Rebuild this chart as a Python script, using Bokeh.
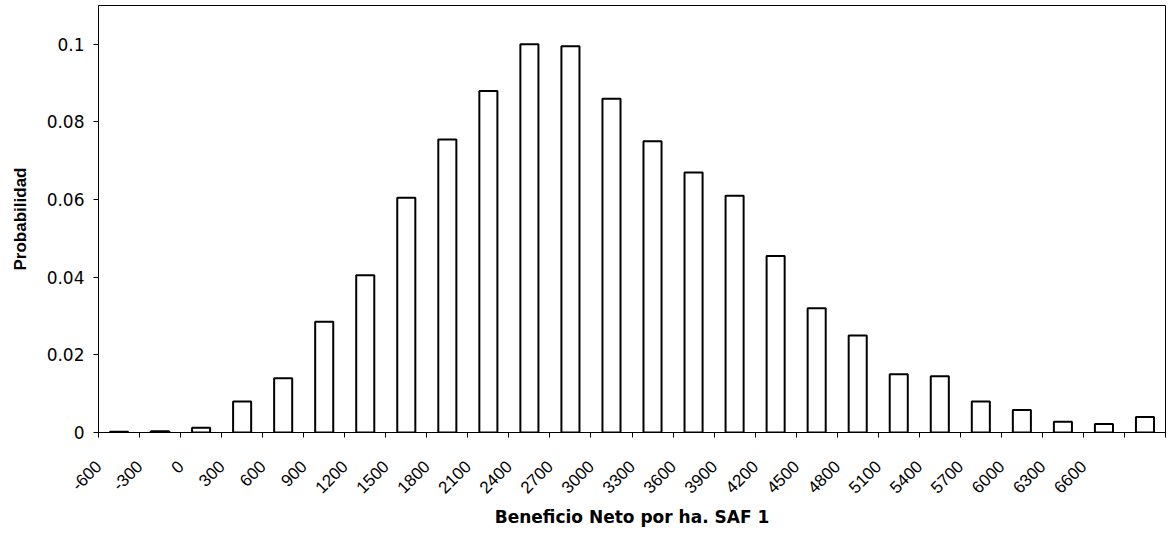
import math
from bokeh.plotting import figure
from bokeh.models import ColumnDataSource, FixedTicker, CustomJSTickFormatter, Range1d
from bokeh.embed import file_html
from bokeh.resources import INLINE

# Bin lower edges (Beneficio Neto por ha.) and probabilities
bin_start = [-600, -300, 0, 300, 600, 900, 1200, 1500, 1800, 2100, 2400, 2700, 3000,
             3300, 3600, 3900, 4200, 4500, 4800, 5100, 5400, 5700, 6000, 6300, 6600, 6900]
probabilidad = [0.0002, 0.0003, 0.0012, 0.0080, 0.0140, 0.0285, 0.0405, 0.0605, 0.0755,
                0.0880, 0.1000, 0.0995, 0.0860, 0.0750, 0.0670, 0.0610, 0.0455, 0.0320,
                0.0250, 0.0150, 0.0145, 0.0080, 0.0058, 0.0028, 0.0022, 0.0040]
bin_size = 300
x_ticks = list(range(-600, 7201, 300))
x_tick_labels = [str(t) for t in range(-600, 6601, 300)]
y_ticks = [0, 0.02, 0.04, 0.06, 0.08, 0.1]

centers = [b + bin_size / 2 for b in bin_start]
src = ColumnDataSource(dict(x=centers, top=probabilidad))

p = figure(width=1176, height=540, output_backend="svg", toolbar_location=None,
           x_range=Range1d(-600, 7200), y_range=Range1d(0, 0.11),
           min_border_left=98, min_border_right=11, min_border_top=5, min_border_bottom=108)
p.background_fill_color = "white"
p.border_fill_color = "white"
p.outline_line_color = "black"
p.outline_line_width = 1
p.xgrid.visible = False
p.ygrid.visible = False

p.vbar(x="x", top="top", bottom=0, width=bin_size * 0.44, source=src,
       fill_color="white", line_color="black", line_width=2)

# x axis
p.xaxis.ticker = FixedTicker(ticks=x_ticks)
overrides = {}
for t in x_ticks:
    overrides[t] = str(t) if str(t) in x_tick_labels else ""
p.xaxis.major_label_overrides = overrides
p.xaxis.major_label_orientation = math.pi / 4
p.xaxis.minor_tick_line_color = None
p.xaxis.major_tick_in = 0
p.xaxis.major_tick_out = 5
p.xaxis.axis_line_color = "black"
p.xaxis.major_label_text_font = "Liberation Sans"
p.xaxis.major_label_text_font_size = "17px"
p.xaxis.major_label_text_color = "black"
p.xaxis.major_label_standoff = 26
p.xaxis.axis_label = "Beneficio Neto por ha. SAF 1"
p.xaxis.axis_label_text_font = "DejaVu Sans"
p.xaxis.axis_label_text_font_style = "bold"
p.xaxis.axis_label_text_font_size = "17px"
p.xaxis.axis_label_text_color = "black"
p.xaxis.axis_label_standoff = 5

# y axis
p.yaxis.ticker = FixedTicker(ticks=y_ticks)
p.yaxis.formatter = CustomJSTickFormatter(code="return tick.toFixed(2).replace(/\\.?0+$/, '');")
p.yaxis.minor_tick_line_color = None
p.yaxis.major_tick_in = 0
p.yaxis.major_tick_out = 5
p.yaxis.axis_line_color = "black"
p.yaxis.major_label_text_font = "DejaVu Sans"
p.yaxis.major_label_text_font_size = "17px"
p.yaxis.major_label_text_color = "black"
p.yaxis.major_label_standoff = 9
p.yaxis.axis_label = "Probabilidad"
p.yaxis.axis_label_text_font = "Liberation Sans"
p.yaxis.axis_label_text_font_style = "bold"
p.yaxis.axis_label_text_font_size = "17px"
p.yaxis.axis_label_text_color = "black"
p.yaxis.axis_label_standoff = 14

open("out.html", "w").write(file_html(p, INLINE))
